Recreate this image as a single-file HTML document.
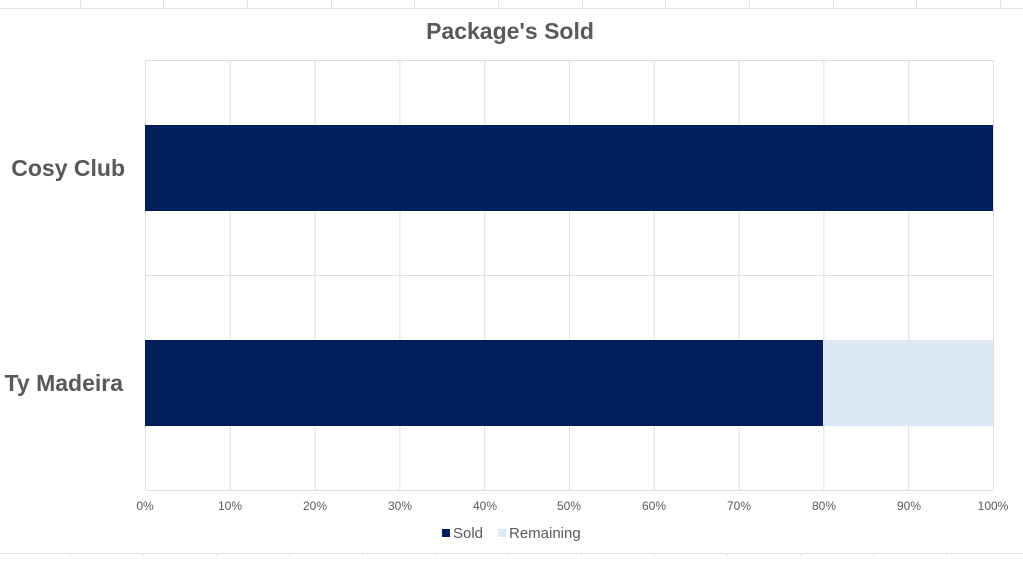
<!DOCTYPE html>
<html><head><style>
body{margin:0;width:1023px;height:556px;background:#fff;overflow:hidden;font-family:"Liberation Sans",Arial,sans-serif}
</style></head><body>
<svg width="1023" height="556" xmlns="http://www.w3.org/2000/svg" font-family="Liberation Sans, Arial, sans-serif">
<g stroke="#e3e3e3" stroke-width="1">
<line x1="0" y1="8.5" x2="1023" y2="8.5"/>
<line x1="80.5" y1="0" x2="80.5" y2="8"/><line x1="163.5" y1="0" x2="163.5" y2="8"/><line x1="247.5" y1="0" x2="247.5" y2="8"/><line x1="331.5" y1="0" x2="331.5" y2="8"/><line x1="414.5" y1="0" x2="414.5" y2="8"/><line x1="498.5" y1="0" x2="498.5" y2="8"/><line x1="582.5" y1="0" x2="582.5" y2="8"/><line x1="665.5" y1="0" x2="665.5" y2="8"/><line x1="749.5" y1="0" x2="749.5" y2="8"/><line x1="833.5" y1="0" x2="833.5" y2="8"/><line x1="916.5" y1="0" x2="916.5" y2="8"/><line x1="1000.5" y1="0" x2="1000.5" y2="8"/>
<line x1="0" y1="553.5" x2="1023" y2="553.5"/>
<line x1="70.5" y1="553" x2="70.5" y2="556"/><line x1="143.5" y1="553" x2="143.5" y2="556"/><line x1="216.5" y1="553" x2="216.5" y2="556"/><line x1="289.5" y1="553" x2="289.5" y2="556"/><line x1="362.5" y1="553" x2="362.5" y2="556"/><line x1="435.5" y1="553" x2="435.5" y2="556"/><line x1="508.5" y1="553" x2="508.5" y2="556"/><line x1="581.5" y1="553" x2="581.5" y2="556"/><line x1="654.5" y1="553" x2="654.5" y2="556"/><line x1="727.5" y1="553" x2="727.5" y2="556"/><line x1="800.5" y1="553" x2="800.5" y2="556"/><line x1="873.5" y1="553" x2="873.5" y2="556"/><line x1="946.5" y1="553" x2="946.5" y2="556"/>
</g>
<g stroke="#dedede" stroke-width="1">
<line x1="145" y1="60.5" x2="993" y2="60.5"/>
<line x1="145" y1="275.5" x2="993" y2="275.5"/>
<line x1="145" y1="490.5" x2="993" y2="490.5"/>
<line x1="145.5" y1="60" x2="145.5" y2="490"/><line x1="230.3" y1="60" x2="230.3" y2="490"/><line x1="315.1" y1="60" x2="315.1" y2="490"/><line x1="399.9" y1="60" x2="399.9" y2="490"/><line x1="484.7" y1="60" x2="484.7" y2="490"/><line x1="569.5" y1="60" x2="569.5" y2="490"/><line x1="654.3" y1="60" x2="654.3" y2="490"/><line x1="739.1" y1="60" x2="739.1" y2="490"/><line x1="823.9" y1="60" x2="823.9" y2="490"/><line x1="908.7" y1="60" x2="908.7" y2="490"/><line x1="993.5" y1="60" x2="993.5" y2="490"/>
</g>
<rect x="145" y="125" width="848" height="86" fill="#001e5a"/>
<rect x="145" y="340" width="678" height="86" fill="#001e5a"/>
<rect x="823" y="340" width="170" height="86" fill="#dce8f4"/>
<text x="510" y="39" text-anchor="middle" font-size="23" font-weight="bold" fill="#595959">Package's Sold</text>
<text x="125" y="176" text-anchor="end" font-size="23" font-weight="bold" fill="#595959">Cosy Club</text>
<text x="123" y="391" text-anchor="end" font-size="23" font-weight="bold" fill="#595959">Ty Madeira</text>
<g font-size="12" fill="#595959" text-anchor="middle">
<text x="145" y="510">0%</text><text x="230" y="510">10%</text><text x="315" y="510">20%</text><text x="400" y="510">30%</text><text x="485" y="510">40%</text><text x="569" y="510">50%</text><text x="654" y="510">60%</text><text x="739" y="510">70%</text><text x="824" y="510">80%</text><text x="909" y="510">90%</text><text x="993" y="510">100%</text>
</g>
<rect x="442" y="529" width="8" height="8" fill="#001e5a"/>
<text x="453" y="538" font-size="15" fill="#595959">Sold</text>
<rect x="498" y="529" width="8" height="8" fill="#dce8f4"/>
<text x="509" y="538" font-size="15" fill="#595959">Remaining</text>
</svg>
</body></html>
